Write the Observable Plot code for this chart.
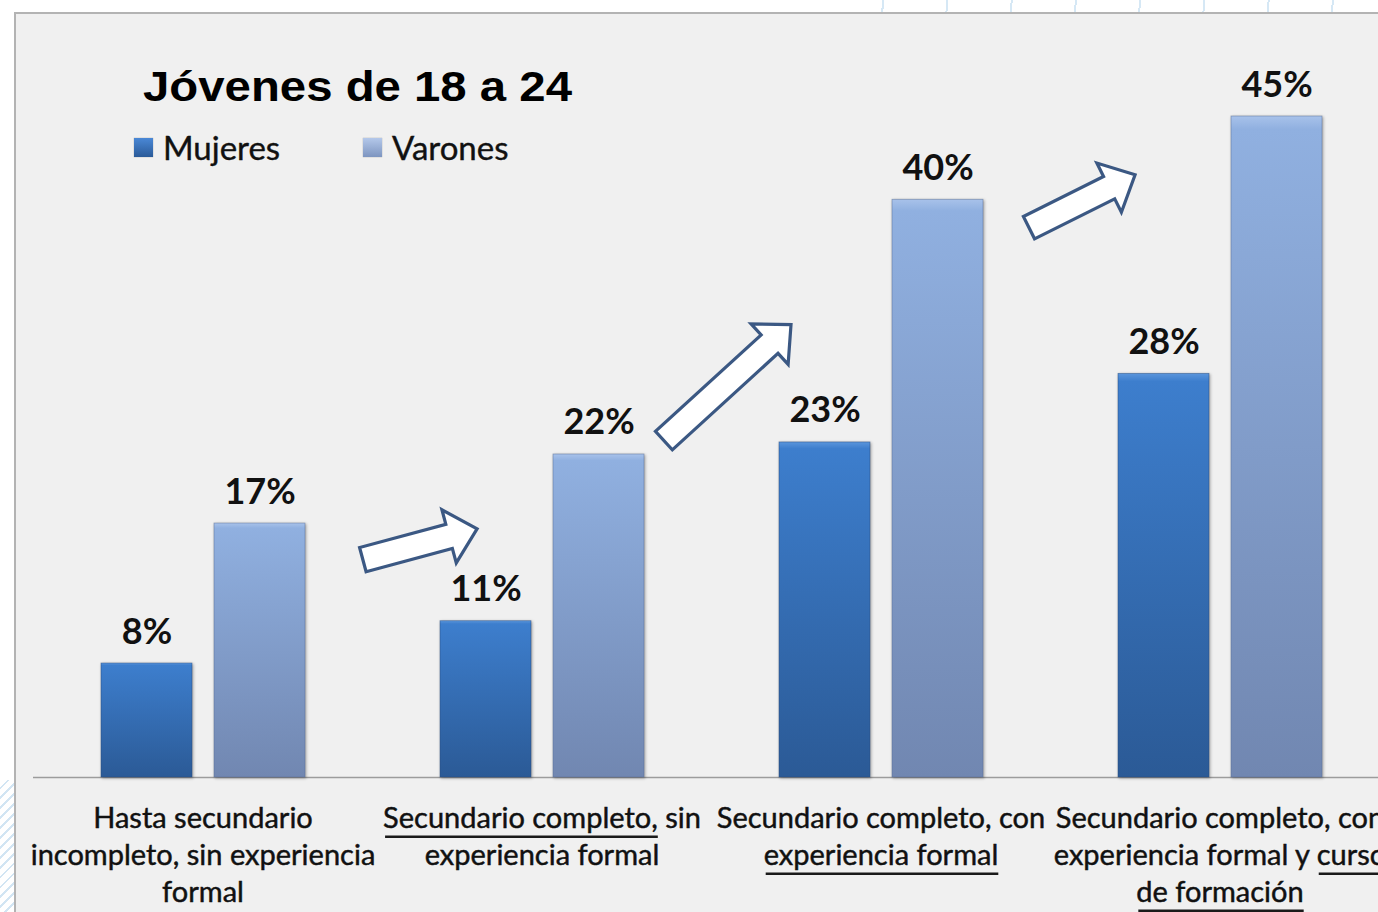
<!DOCTYPE html>
<html>
<head>
<meta charset="utf-8">
<script src="https://cdn.jsdelivr.net/npm/d3@7"></script>
<script src="https://cdn.jsdelivr.net/npm/@observablehq/plot@0.6"></script>
<style>
  html, body { margin: 0; padding: 0; background: #ffffff; }
  body { width: 1378px; height: 912px; overflow: hidden; position: relative; font-family: Lato, "Open Sans", sans-serif; }
  #deco-top { position: absolute; left: 820px; top: 0; width: 560px; height: 12px;
    background: repeating-linear-gradient(95deg, transparent 0 62px, #d6e8f5 62px 64px); }
  #deco-left { position: absolute; left: 0; top: 780px; width: 14px; height: 140px;
    background: repeating-linear-gradient(135deg, transparent 0 5px, #d2e5f3 5px 7px); }
  #frame { position: absolute; left: 14px; top: 12px; width: 1420px; height: 960px; background: #f0f0f0;
    border-left: 2px solid #b3b3b3; border-top: 2px solid #b3b3b3; }
  #chart { position: absolute; left: 0; top: 0; width: 1390px; }
  #chart svg { max-width: none !important; }
  #title { position: absolute; left: 0; top: 0; }
  #legend { position: absolute; left: 134px; top: 127px; height: 40px; width: 420px; color: #111; }
  .li { position: absolute; top: 0; display: flex; align-items: center; font-size: 33px; font-family: Lato, sans-serif; -webkit-text-stroke: 0.4px #111; }
  .sw { width: 19px; height: 19px; margin-right: 10px; box-shadow: 0 0 1px rgba(0,0,0,0.4); }
</style>
</head>
<body>
<div id="deco-top"></div>
<div id="deco-left"></div>
<div id="frame"></div>
<div id="chart"></div>
<svg id="title" width="700" height="120">
  <text id="titleText" x="143" y="101" font-family="Liberation Sans, Arial, sans-serif" font-weight="bold" font-size="42" fill="#000" textLength="429" lengthAdjust="spacingAndGlyphs"></text>
</svg>
<div id="legend"></div>
<script>
// ---- data ----
const titleText = "Jóvenes de 18 a 24";
const series = ["Mujeres", "Varones"];
const categoryLines = [
  ["Hasta secundario", "incompleto, sin experiencia", "formal"],
  ["Secundario completo, sin", "experiencia formal"],
  ["Secundario completo, con", "experiencia formal"],
  ["Secundario completo, con", "experiencia formal y curso", "de formación"]
];
const categories = categoryLines.map(l => l.join(" "));
// bar heights (%)
const mujeres = [7.76, 10.64, 22.81, 27.48];
const varones = [17.29, 21.99, 39.33, 45.0];
// value labels as printed
const mujeresLabels = ["8%", "11%", "23%", "28%"];
const varonesLabels = ["17%", "22%", "40%", "45%"];
// underlined fragments: category index, line index, fragment
const underlines = [
  [1, 0, "Secundario completo,"],
  [2, 1, "experiencia formal"],
  [3, 1, "curso"],
  [3, 2, "de formación"]
];
// arrows: position in category units (0 = left edge of first group) and value units (%)
const arrows = [
  { x1: 0.973, y1: 14.8, x2: 1.310, y2: 16.9 },
  { x1: 1.861, y1: 22.9, x2: 2.236, y2: 30.8 },
  { x1: 2.938, y1: 37.4, x2: 3.251, y2: 41.0 }
];

const rows = categories.flatMap((c, i) => [
  { cat: c, serie: series[0], value: mujeres[i], label: mujeresLabels[i] },
  { cat: c, serie: series[1], value: varones[i], label: varonesLabels[i] }
]);

document.getElementById("titleText").textContent = titleText;

// legend
const gradCss = {
  Mujeres: "linear-gradient(#4a88d6, #2a5a98)",
  Varones: "linear-gradient(#b4c8ea, #7d95c0)"
};
const legend = document.getElementById("legend");
series.forEach((s, i) => {
  const d = document.createElement("div");
  d.className = "li";
  d.style.left = (i === 0 ? 0 : 229) + "px";
  d.innerHTML = `<div class="sw" style="background:${gradCss[s]}"></div><span>${s}</span>`;
  legend.appendChild(d);
});

const plot = Plot.plot({
  width: 1390,
  height: 912,
  marginLeft: 33,
  marginRight: 1,
  marginTop: 116,
  marginBottom: 135,
  style: { background: "transparent", fontFamily: "Lato, sans-serif", color: "#111", overflow: "visible", maxWidth: "none" },
  fx: { domain: categories, padding: 0, label: null },
  x: { domain: series, paddingInner: 0.195, paddingOuter: 0.5975, axis: null },
  y: { domain: [0, 45], axis: null },
  marks: [
    Plot.ruleY([0], { stroke: "#9c9c9c", strokeWidth: 1.5 }),
    Plot.barY(rows.filter(d => d.serie === series[0]), {
      fx: "cat", x: "serie", y: "value", fill: "url(#gradM)", stroke: "#2b4f80", strokeWidth: 0.8, strokeOpacity: 0.6
    }),
    Plot.barY(rows.filter(d => d.serie === series[1]), {
      fx: "cat", x: "serie", y: "value", fill: "url(#gradV)", stroke: "#5a6f96", strokeWidth: 0.8, strokeOpacity: 0.6
    }),
    Plot.text(rows, {
      fx: "cat", x: "serie", y: "value", text: "label",
      dy: -20, lineAnchor: "bottom", fontSize: 36, fontWeight: "bold", fill: "#111"
    }),
    Plot.axisFx({
      anchor: "bottom", tickSize: 0, tickPadding: 24, fontSize: 29, lineHeight: 1.276,
      tickFormat: d => categoryLines[categories.indexOf(d)].join("\n"), fill: "#111", label: null
    })
  ]
});
plot.style.maxWidth = "none";
document.getElementById("chart").appendChild(plot);

const svg = d3.select(plot);
// gradients
const defs = svg.insert("defs", ":first-child");
const gM = defs.append("linearGradient").attr("id", "gradM").attr("x1", 0).attr("y1", 0).attr("x2", 0).attr("y2", 1);
gM.append("stop").attr("offset", 0).attr("stop-color", "#5a95dc");
gM.append("stop").attr("offset", 0.02).attr("stop-color", "#3d7ecd");
gM.append("stop").attr("offset", 1).attr("stop-color", "#2b5a96");
const gV = defs.append("linearGradient").attr("id", "gradV").attr("x1", 0).attr("y1", 0).attr("x2", 0).attr("y2", 1);
gV.append("stop").attr("offset", 0).attr("stop-color", "#a8c2ea");
gV.append("stop").attr("offset", 0.02).attr("stop-color", "#90b0e0");
gV.append("stop").attr("offset", 1).attr("stop-color", "#7187b1");
svg.selectAll("rect").style("filter", "drop-shadow(1px 1px 1.5px rgba(0,0,0,0.35))");

// heavier category text, like the reference
const texts = svg.selectAll('g[aria-label="fx-axis tick label"] text')
  .attr("stroke", "#111").attr("stroke-width", 0.45).nodes();

// underlines
const svgRect = plot.getBoundingClientRect();
underlines.forEach(([ci, li, frag]) => {
  for (const t of texts) {
    let lines = Array.from(t.children).filter(e => e.tagName.toLowerCase() === "tspan");
    if (!lines.length) lines = [t];
    const full = lines.map(s => s.textContent).join("\n");
    if (full !== categoryLines[ci].join("\n")) continue;
    const sp = lines[li];
    const text = sp.textContent;
    const k = text.indexOf(frag);
    if (k < 0) continue;
    sp.textContent = "";
    if (k > 0) sp.appendChild(document.createTextNode(text.slice(0, k)));
    const u = document.createElementNS("http://www.w3.org/2000/svg", "tspan");
    u.textContent = frag;
    sp.appendChild(u);
    if (k + frag.length < text.length) sp.appendChild(document.createTextNode(text.slice(k + frag.length)));
    const r = u.getBoundingClientRect();
    const yy = r.bottom - svgRect.top + 3;
    svg.append("line")
      .attr("x1", r.left - svgRect.left + 2).attr("x2", r.right - svgRect.left)
      .attr("y1", yy).attr("y2", yy)
      .attr("stroke", "#1a1a1a").attr("stroke-width", 2.5);
    break;
  }
});

// arrows, positioned through the plot's scales
const fx = plot.scale("fx"), y = plot.scale("y");
const bw = fx.bandwidth ?? (fx.range[1] - fx.range[0]) / categories.length;
const px = v => {
  const i = Math.min(Math.floor(v), categories.length - 1);
  return fx.apply(categories[i]) + (v - i) * bw;
};
const W = 12.5, H = 27.5, HL = 29;
arrows.forEach(a => {
  const tx = px(a.x1), ty = y.apply(a.y1), hx = px(a.x2), hy = y.apply(a.y2);
  const L = Math.hypot(hx - tx, hy - ty), ux = (hx - tx) / L, uy = (hy - ty) / L;
  const nx = -uy, ny = ux;
  const bx = hx - ux * HL, by = hy - uy * HL;
  const pts = [
    [tx + nx * W, ty + ny * W], [bx + nx * W, by + ny * W], [bx + nx * H, by + ny * H],
    [hx, hy],
    [bx - nx * H, by - ny * H], [bx - nx * W, by - ny * W], [tx - nx * W, ty - ny * W]
  ];
  svg.append("path")
    .attr("d", "M" + pts.map(p => p.join(",")).join("L") + "Z")
    .attr("fill", "#ffffff").attr("stroke", "#3b5883").attr("stroke-width", 3.2)
    .attr("stroke-linejoin", "miter");
});
</script>
</body>
</html>
